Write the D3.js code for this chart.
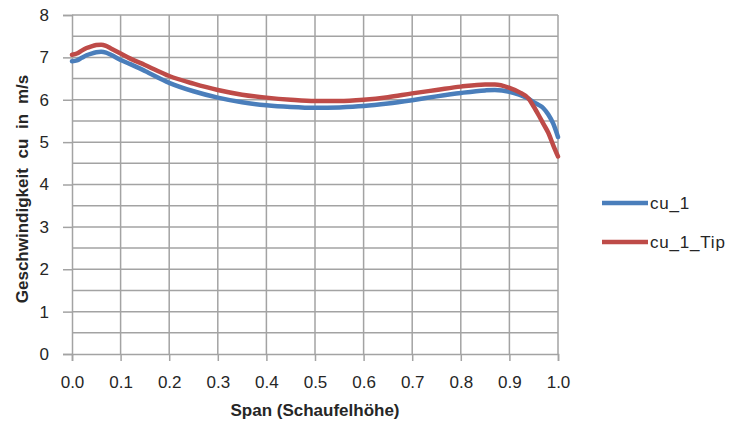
<!DOCTYPE html>
<html>
<head>
<meta charset="utf-8">
<script src="https://cdn.jsdelivr.net/npm/d3@7/dist/d3.min.js"></script>
<style>
  html, body { margin: 0; padding: 0; background: #fff; }
  svg { display: block; }
  text { font-family: "Liberation Sans", Arial, sans-serif; fill: #262626; }
</style>
</head>
<body>
<svg id="chart" width="731" height="425"></svg>
<script>
// Span positions (relative blade height)
const span = [0, 0.01, 0.02, 0.03, 0.04, 0.05, 0.06, 0.07, 0.08, 0.10, 0.12, 0.15,
  0.20, 0.25, 0.30, 0.35, 0.40, 0.45, 0.50, 0.55, 0.60, 0.65, 0.70, 0.75, 0.80,
  0.85, 0.87, 0.90, 0.92, 0.94, 0.95, 0.96, 0.97, 0.98, 0.99, 1.00];

// Circumferential velocity cu in m/s
const cu1 = [6.91, 6.93, 6.99, 7.05, 7.09, 7.12, 7.13, 7.11, 7.06, 6.94, 6.84, 6.68,
  6.40, 6.20, 6.05, 5.94, 5.87, 5.83, 5.81, 5.82, 5.85, 5.91, 5.99, 6.08, 6.16,
  6.22, 6.23, 6.19, 6.12, 6.02, 5.94, 5.88, 5.80, 5.65, 5.44, 5.12];
const cu1Tip = [7.06, 7.09, 7.16, 7.22, 7.26, 7.29, 7.30, 7.27, 7.21, 7.09, 6.97, 6.82,
  6.56, 6.38, 6.23, 6.12, 6.05, 6.00, 5.97, 5.97, 6.00, 6.06, 6.15, 6.23, 6.31,
  6.36, 6.36, 6.28, 6.18, 6.02, 5.84, 5.64, 5.43, 5.22, 4.93, 4.66];

const seriesNames = ["cu_1", "cu_1_Tip"];
const seriesColors = ["#4a7ebb", "#be4b48"];
const xTicks = [0, 0.1, 0.2, 0.3, 0.4, 0.5, 0.6, 0.7, 0.8, 0.9, 1.0];
const yTicks = [0, 1, 2, 3, 4, 5, 6, 7, 8];
const yGrid = d3.range(0.5, 8.01, 0.5);

const xTitle = "Span (Schaufelhöhe)";
const yTitle = "Geschwindigkeit cu in m/s";

const svg = d3.select("#chart");
const plotLeft = 72, plotRight = 558, plotTop = 15, plotBottom = 354;

const x = d3.scaleLinear().domain([0, 1]).range([plotLeft, plotRight]);
const y = d3.scaleLinear().domain([0, 8]).range([plotBottom, plotTop]);

const gridColor = "#a3a3a3";

// horizontal grid lines every 0.5
svg.append("g")
  .selectAll("line")
  .data(yGrid)
  .join("line")
  .attr("x1", plotLeft).attr("x2", plotRight)
  .attr("y1", d => y(d)).attr("y2", d => y(d))
  .attr("stroke", gridColor).attr("stroke-width", 1.5);

// vertical grid lines every 0.1
svg.append("g")
  .selectAll("line")
  .data(xTicks.slice(1))
  .join("line")
  .attr("x1", d => x(d)).attr("x2", d => x(d))
  .attr("y1", plotTop).attr("y2", plotBottom)
  .attr("stroke", gridColor).attr("stroke-width", 1.5);

// axes
const xAxis = svg.append("g")
  .attr("transform", `translate(0,${plotBottom})`)
  .call(d3.axisBottom(x).tickValues(xTicks).tickFormat(d3.format(".1f")).tickSize(7).tickPadding(15));
const yAxis = svg.append("g")
  .attr("transform", `translate(${plotLeft},0)`)
  .call(d3.axisLeft(y).tickValues(yTicks).tickFormat(d3.format("d")).tickSize(9).tickPadding(14));

[xAxis, yAxis].forEach(g => {
  g.select(".domain").attr("stroke", gridColor).attr("stroke-width", 1.5);
  g.selectAll(".tick line").attr("stroke", gridColor).attr("stroke-width", 1.5);
  g.selectAll(".tick text")
    .attr("fill", "#1f1f2e")
    .style("font-family", '"Liberation Sans", Arial, sans-serif')
    .style("font-size", "17px");
});

// series lines
const line = d3.line()
  .x(d => x(d[0]))
  .y(d => y(d[1]))
  .curve(d3.curveMonotoneX);

const series = [cu1, cu1Tip];
series.forEach((vals, i) => {
  svg.append("path")
    .datum(span.map((s, k) => [s, vals[k]]))
    .attr("d", line)
    .attr("fill", "none")
    .attr("stroke", seriesColors[i])
    .attr("stroke-width", 4.5)
    .attr("stroke-linejoin", "round")
    .attr("stroke-linecap", "round");
});

// axis titles
svg.append("text")
  .attr("x", 315).attr("y", 416)
  .attr("text-anchor", "middle")
  .attr("font-weight", "bold")
  .attr("font-size", 17)
  .text(xTitle);

svg.append("text")
  .attr("transform", "translate(28,189) rotate(-90)")
  .attr("text-anchor", "middle")
  .attr("font-weight", "bold")
  .attr("font-size", 17)
  .attr("word-spacing", 5)
  .text(yTitle);

// legend
const legend = svg.append("g");
const legendY = [203, 242];
seriesNames.forEach((name, i) => {
  legend.append("line")
    .attr("x1", 602).attr("x2", 648)
    .attr("y1", legendY[i]).attr("y2", legendY[i])
    .attr("stroke", seriesColors[i]).attr("stroke-width", 4.5);
  legend.append("text")
    .attr("x", 650).attr("y", legendY[i] + 6)
    .attr("font-size", 17)
    .attr("letter-spacing", 0.8)
    .text(name);
});
</script>
</body>
</html>
